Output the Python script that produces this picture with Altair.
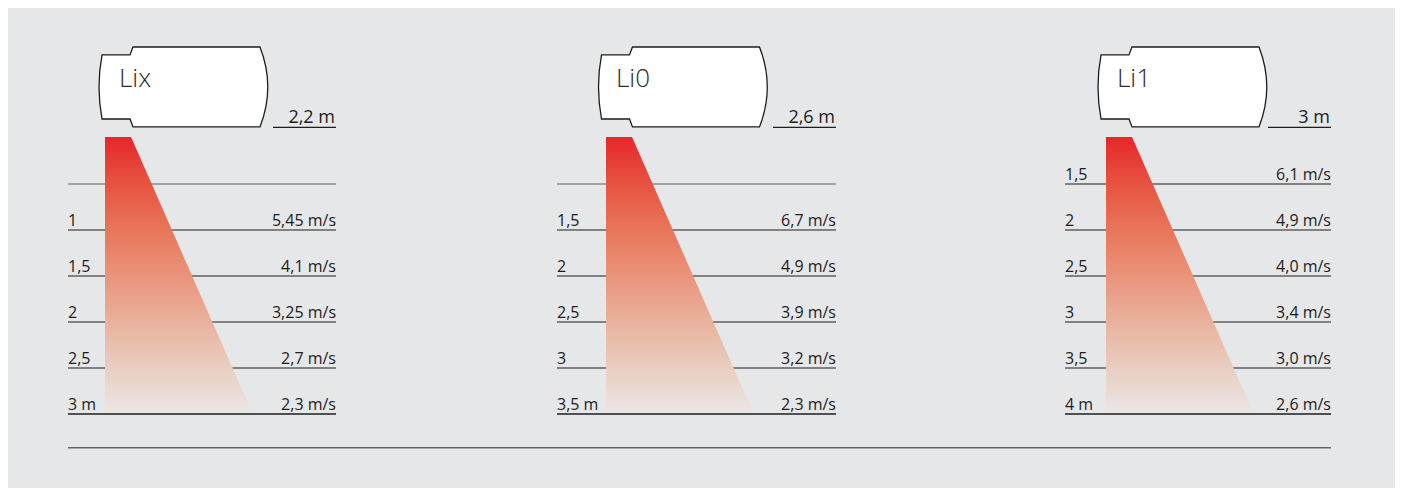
import altair as alt
import pandas as pd

# ---------------- data ----------------
MODELS = ["Lix", "Li0", "Li1"]
MOUNT_HEIGHTS = ["2,2 m", "2,6 m", "3 m"]
DISTANCE_LABELS = [
    ["", "1", "1,5", "2", "2,5", "3 m"],
    ["", "1,5", "2", "2,5", "3", "3,5 m"],
    ["1,5", "2", "2,5", "3", "3,5", "4 m"],
]
VELOCITY_LABELS = [
    ["", "5,45 m/s", "4,1 m/s", "3,25 m/s", "2,7 m/s", "2,3 m/s"],
    ["", "6,7 m/s", "4,9 m/s", "3,9 m/s", "3,2 m/s", "2,3 m/s"],
    ["6,1 m/s", "4,9 m/s", "4,0 m/s", "3,4 m/s", "3,0 m/s", "2,6 m/s"],
]

# ---------------- layout (layout units) ----------------
W, H = 1387, 480
ROW_PX = 46
FIRST_LINE_PX = 176
LINE_LEFT = [60, 549, 1057]
LINE_RIGHT = [328, 828, 1323]
BEAM_LEFT = [97, 598, 1098]
BEAM_TOP_W, BEAM_BOTTOM_W = 26, 147
DEVICE_CX = [175.5, 675, 1174.5]
TITLE_X = [111, 608, 1109]
UNDERLINE_LEN = 63
ROW_BEAM_TOP, ROW_BEAM_BOTTOM = -1.022, 4.96
ROW_DEVICE, ROW_TITLE = -2.109, -2.115
ROW_MOUNT_TEXT, ROW_MOUNT_LINE = -1.32, -1.233
ROW_SEPARATOR = 5.733
LABEL_LIFT = 0.087
FONT = "Open Sans"
BG = "#e6e7e9"

DEVICE_PATH = ("M-0.964,-0.379 L-0.633,-0.379 L-0.598,-0.473 L0.905,-0.473 "
               "Q1.09,0 0.905,0.473 L-0.598,0.473 L-0.633,0.379 L-0.964,0.379 "
               "Q-1.036,0 -0.964,-0.379 Z")

# ---------------- tables ----------------
rules, labels_l, labels_r, beams, devices, titles, mounts = [], [], [], [], [], [], []
for p, model in enumerate(MODELS):
    for r in range(6):
        d = DISTANCE_LABELS[p][r]
        if r == 5:
            col, sw = "#505050", 1.8
        elif d == "":
            col, sw = "#5f5f5f", 1.2
        else:
            col, sw = "#1d1d1b", 1.2
        rules.append(dict(x=LINE_LEFT[p], x2=LINE_RIGHT[p], y=r, col=col, sw=sw))
        labels_l.append(dict(x=LINE_LEFT[p], y=r - LABEL_LIFT, t=d))
        labels_r.append(dict(x=LINE_RIGHT[p], y=r - LABEL_LIFT, t=VELOCITY_LABELS[p][r]))
    rules.append(dict(x=LINE_RIGHT[p] - UNDERLINE_LEN, x2=LINE_RIGHT[p], y=ROW_MOUNT_LINE,
                      col="#1d1d1b", sw=1.2))
    beams.append(dict(panel=model, y=ROW_BEAM_TOP, x=BEAM_LEFT[p], x2=BEAM_LEFT[p] + BEAM_TOP_W))
    beams.append(dict(panel=model, y=ROW_BEAM_BOTTOM, x=BEAM_LEFT[p], x2=BEAM_LEFT[p] + BEAM_BOTTOM_W))
    devices.append(dict(x=DEVICE_CX[p], y=ROW_DEVICE))
    titles.append(dict(x=TITLE_X[p], y=ROW_TITLE, t=model))
    mounts.append(dict(x=LINE_RIGHT[p] - 1, y=ROW_MOUNT_TEXT, t=MOUNT_HEIGHTS[p]))
rules.append(dict(x=LINE_LEFT[0], x2=LINE_RIGHT[2], y=ROW_SEPARATOR, col="#666666", sw=1.6))

xs = alt.Scale(domain=[0, W], nice=False, zero=False)
ys = alt.Scale(domain=[-FIRST_LINE_PX / ROW_PX, (H - FIRST_LINE_PX) / ROW_PX],
               reverse=True, nice=False, zero=False)


def X(f="x"):
    return alt.X(f"{f}:Q", scale=xs, axis=None)


def Y(f="y"):
    return alt.Y(f"{f}:Q", scale=ys, axis=None)


rule_layer = alt.Chart(pd.DataFrame(rules)).mark_rule().encode(
    x=X(), x2="x2:Q", y=Y(),
    color=alt.Color("col:N", scale=None),
    strokeWidth=alt.StrokeWidth("sw:Q", scale=None),
)

grad = alt.Gradient(
    gradient="linear",
    stops=[
        alt.GradientStop(offset=0.0, color="#e8262a"),
        alt.GradientStop(offset=0.17, color="#e65340"),
        alt.GradientStop(offset=0.34, color="#e8765a"),
        alt.GradientStop(offset=0.5, color="#e9937a"),
        alt.GradientStop(offset=0.67, color="#e9b19c"),
        alt.GradientStop(offset=0.83, color="#e9ccbf"),
        alt.GradientStop(offset=1.0, color="#ebe6e4"),
    ],
    x1=0, x2=0, y1=0, y2=1,
)
beam_layer = alt.Chart(pd.DataFrame(beams)).mark_area(
    orient="horizontal", color=grad, opacity=1
).encode(x=X(), x2="x2:Q", y=Y(), detail="panel:N")

device_layer = alt.Chart(pd.DataFrame(devices)).mark_point(
    shape=DEVICE_PATH, size=169 ** 2, filled=True, color="white", fill="white",
    stroke="#1d1d1b", strokeWidth=1.3, opacity=1, fillOpacity=1, strokeOpacity=1,
).encode(x=X(), y=Y())

title_layer = alt.Chart(pd.DataFrame(titles)).mark_text(
    align="left", baseline="alphabetic", font=FONT, fontSize=26, fontWeight=300, color="#2b2b2b"
).encode(x=X(), y=Y(), text="t:N")

mount_layer = alt.Chart(pd.DataFrame(mounts)).mark_text(
    align="right", baseline="alphabetic", font=FONT, fontSize=18, color="#1d1d1b"
).encode(x=X(), y=Y(), text="t:N")

left_layer = alt.Chart(pd.DataFrame(labels_l)).mark_text(
    align="left", baseline="alphabetic", font=FONT, fontSize=16, color="#1d1d1b"
).encode(x=X(), y=Y(), text="t:N")

right_layer = alt.Chart(pd.DataFrame(labels_r)).mark_text(
    align="right", baseline="alphabetic", font=FONT, fontSize=16, color="#1d1d1b"
).encode(x=X(), y=Y(), text="t:N")

chart = alt.layer(
    rule_layer, beam_layer, device_layer, title_layer, mount_layer, left_layer, right_layer
).properties(
    width=W, height=H, padding=0, background=BG,
    autosize=alt.AutoSizeParams(type="none"),
).configure_view(stroke=None)

chart.save("out.html", embed_options={"renderer": "svg", "actions": False})
